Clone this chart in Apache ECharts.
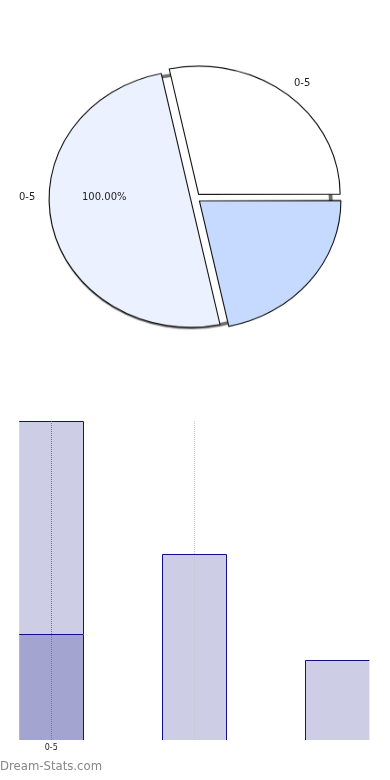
<!DOCTYPE html>
<html>
<head>
<meta charset="utf-8">
<script src="https://cdn.jsdelivr.net/npm/echarts@6/dist/echarts.min.js"></script>
<style>
  html, body { margin: 0; padding: 0; background: #ffffff; }
  #pie { position: absolute; left: 0; top: 0; width: 390px; height: 441px; transform: scaleY(0.907); transform-origin: 0 0; }
  #main { position: absolute; left: 0; top: 0; width: 390px; height: 780px; }
</style>
</head>
<body>
<div id="pie"></div>
<div id="main"></div>
<script>
// ---- data ----
var pieNames = ['0-5', '0-5', '0-5'];
var pieValues = [28.3, 21.7, 50.0];
var pieOuterLabels = ['0-5', '', '0-5'];
var piePercentLabel = '100.00%';

var barCategories = ['0-5', '', ''];
var barPositions = [0, 1, 2];
var barBottomValues = [4, null, null];
var barTopValues = [8, 7, 3];
var xTickLabels = ['0-5'];
var watermark = 'Dream-Stats.com';

// ---- styles ----
var pieColors = ['#ffffff', '#c6d9fe', '#ebf1fe'];
var FONT = 'DejaVu Sans';
var SY = 0.907;
var PIE_CX = 195.5, PIE_CY = 198 / SY, PIE_R = 141.5;

// ---- pie chart (vertically scaled to an ellipse via CSS) ----
var pieChart = echarts.init(document.getElementById('pie'), null, { renderer: 'canvas' });
var total = pieValues.reduce(function (a, b) { return a + b; }, 0);
pieChart.setOption({
  animation: false,
  series: [
    {
      type: 'pie',
      silent: true,
      center: [PIE_CX - 4.5, PIE_CY + 3],
      radius: [PIE_R - 3.5, PIE_R],
      startAngle: 102,
      label: { show: false },
      labelLine: { show: false },
      emphasis: { disabled: true },
      itemStyle: { color: '#6e6e6e', borderWidth: 0, shadowBlur: 2, shadowColor: 'rgba(0,0,0,0.3)' },
      data: [{ value: total, name: 'shadow' }]
    },
    {
      type: 'pie',
      silent: true,
      center: [PIE_CX, PIE_CY],
      radius: [0, PIE_R],
      startAngle: 102,
      clockwise: true,
      selectedMode: 'multiple',
      selectedOffset: 5,
      label: { show: false },
      labelLine: { show: false },
      emphasis: { disabled: true },
      itemStyle: { borderColor: '#111111', borderWidth: 1.1 },
      data: pieValues.map(function (v, i) {
        return { value: v, name: pieNames[i] + '#' + i, selected: true, itemStyle: { color: pieColors[i] } };
      })
    }
  ]
});

// ---- bar chart + texts ----
var items = [];
barPositions.forEach(function (x, i) {
  var base = 0;
  if (barBottomValues[i] != null) {
    items.push([x, 0, barBottomValues[i], 1]);
    base = barBottomValues[i];
  }
  if (barTopValues[i] != null) {
    items.push([x, base, base + barTopValues[i], 0]);
  }
});

var fills = ['#cdcde5', '#a3a4d0'];
var BORDER = '#10108f';
var BAR_RATIO = 64 / 143.1;

function snap(v) { return Math.floor(v) + 0.5; }

var chart = echarts.init(document.getElementById('main'), null, { renderer: 'canvas' });
chart.setOption({
  animation: false,
  title: {
    text: watermark,
    left: 0,
    top: 761,
    padding: 0,
    textStyle: { fontFamily: FONT, fontSize: 11.7, fontWeight: 'normal', color: '#868686' }
  },
  graphic: [
    { type: 'text', left: 302 - 8, top: 84 - 6, style: { text: pieOuterLabels[0], font: '10px "DejaVu Sans"', fill: '#222' } },
    { type: 'text', left: 27 - 8, top: 198 - 6, style: { text: pieOuterLabels[2], font: '10px "DejaVu Sans"', fill: '#222' } },
    { type: 'text', left: 105 - 23, top: 198 - 6, style: { text: piePercentLabel, font: '10px "DejaVu Sans"', fill: '#222' } }
  ],
  grid: { left: 19, right: 20, top: 421, bottom: 40, containLabel: false },
  xAxis: {
    type: 'value',
    min: -0.225,
    max: 2.228,
    axisLine: { show: false },
    axisTick: { show: false },
    splitLine: { show: false },
    axisLabel: {
      customValues: [0],
      margin: 4,
      fontSize: 8,
      fontFamily: FONT,
      color: '#222',
      formatter: function (v) { return xTickLabels[Math.round(v)] || ''; }
    }
  },
  yAxis: {
    type: 'value',
    min: 0,
    max: 12,
    show: false
  },
  series: [{
    type: 'custom',
    clip: false,
    data: items,
    encode: { x: 0, y: [1, 2] },
    renderItem: function (params, api) {
      var x = api.value(0), lo = api.value(1), hi = api.value(2), tone = api.value(3);
      var p0 = api.coord([x, lo]);
      var p1 = api.coord([x, hi]);
      var w = api.size([1, 0])[0] * BAR_RATIO;
      var cs = params.coordSys;
      var gl = cs.x, gr = cs.x + cs.width;
      var left = p0[0] - w / 2, right = p0[0] + w / 2;
      var cl = Math.max(left, gl), cr = Math.min(right, gr);
      var top = Math.round(p1[1]), bottom = Math.round(p0[1]);
      var children = [{
        type: 'rect',
        shape: { x: cl, y: top, width: cr - cl, height: bottom - top },
        style: { fill: fills[tone] }
      }];
      var pts = [];
      var ty = top + 0.5;
      if (left >= gl + 1) { pts.push([snap(left), bottom], [snap(left), ty]); } else { pts.push([cl, ty]); }
      if (right <= gr - 2) { pts.push([snap(right), ty], [snap(right), bottom]); } else { pts.push([cr, ty]); }
      children.push({
        type: 'polyline',
        shape: { points: pts },
        style: { stroke: BORDER, lineWidth: 1, fill: null }
      });
      return { type: 'group', children: children };
    },
    markLine: {
      silent: true,
      symbol: ['none', 'none'],
      label: { show: false },
      lineStyle: { type: 'dotted', width: 1 },
      data: [
        { xAxis: 0, lineStyle: { color: '#7a7a7a', type: 'dotted', width: 1 } },
        { xAxis: 1, lineStyle: { color: '#c8c8c8', type: 'dotted', width: 1 } }
      ]
    }
  }]
});
</script>
</body>
</html>
